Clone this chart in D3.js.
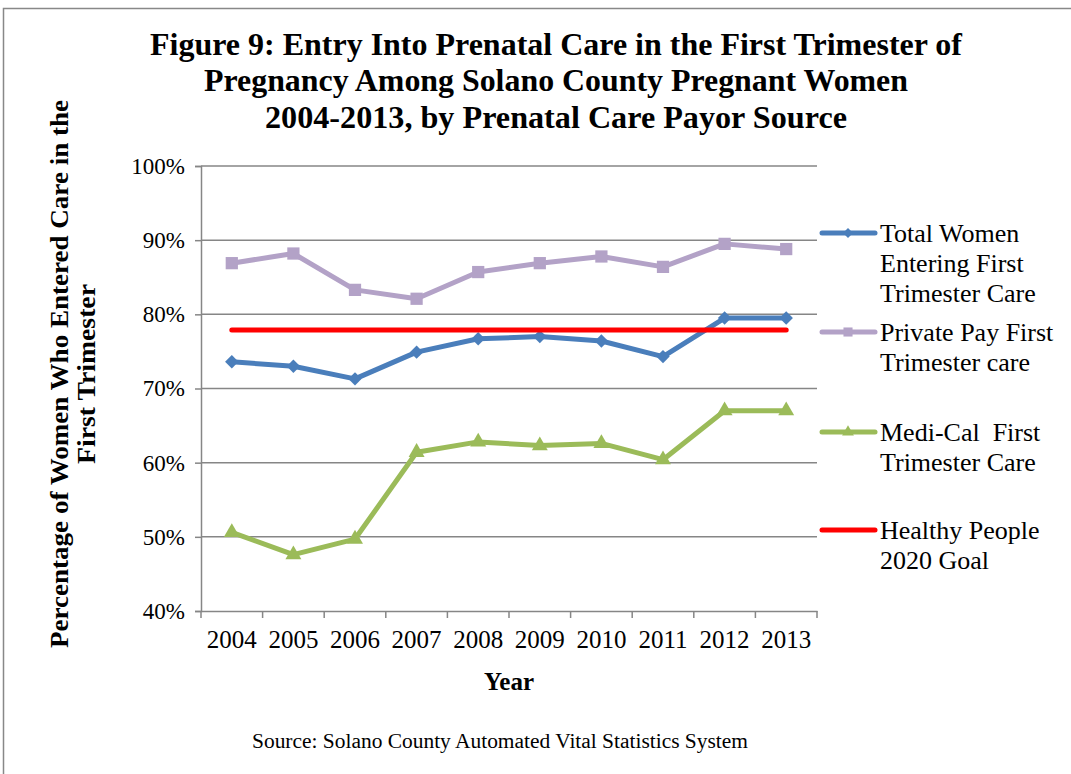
<!DOCTYPE html>
<html>
<head>
    <script src="https://d3js.org/d3.v7.min.js"></script>
    <style>
        body { margin: 0; background-color: white; }
        text { font-family: "Liberation Serif", "Times New Roman", serif; fill: #000; }
    </style>
</head>
<body>
<div id="chart"></div>
<script>
    // data
    var years = ["2004", "2005", "2006", "2007", "2008", "2009", "2010", "2011", "2012", "2013"];
    var totalWomen = [73.6, 73.0, 71.3, 74.9, 76.7, 77.0, 76.4, 74.3, 79.5, 79.5];
    var privatePay = [86.9, 88.2, 83.3, 82.1, 85.7, 86.9, 87.8, 86.4, 89.5, 88.8];
    var mediCal = [50.6, 47.6, 49.7, 61.4, 62.8, 62.3, 62.6, 60.4, 67.0, 67.0];
    var goal = [77.9, 77.9, 77.9, 77.9, 77.9, 77.9, 77.9, 77.9, 77.9, 77.9];
    var yTicks = [40, 50, 60, 70, 80, 90, 100];
    var titleLines = ["Figure 9: Entry Into Prenatal Care in the First Trimester of",
                      "Pregnancy Among Solano County Pregnant Women",
                      "2004-2013, by Prenatal Care Payor Source"];

    var series = [
        {name: ["Total Women", "Entering First", "Trimester Care"], values: totalWomen, color: "#4a7ebb", marker: "diamond"},
        {name: ["Private Pay First", "Trimester care"], values: privatePay, color: "#b3a2c7", marker: "square"},
        {name: ["Medi-Cal  First", "Trimester Care"], values: mediCal, color: "#9bbb59", marker: "triangle"},
        {name: ["Healthy People", "2020 Goal"], values: goal, color: "#ff0000", marker: null}
    ];

    var W = 1071, H = 774;
    var svg = d3.select("#chart").append("svg")
        .attr("width", W).attr("height", H);

    // outer frame
    svg.append("rect")
        .attr("x", 3.5).attr("y", 8.5)
        .attr("width", W + 10).attr("height", H + 10)
        .attr("fill", "none").attr("stroke", "#888").attr("stroke-width", 1.5);

    // title
    var titleY = [55, 91, 128];
    var titleW = [812, 704, 582];
    svg.selectAll(".title").data(titleLines).enter().append("text")
        .attr("x", 556).attr("y", function(d, i) { return titleY[i]; })
        .attr("text-anchor", "middle")
        .attr("textLength", function(d, i) { return titleW[i]; })
        .attr("lengthAdjust", "spacingAndGlyphs")
        .style("font-size", "31px").style("font-weight", "bold")
        .text(function(d) { return d; });

    var plotL = 201, plotR = 817, plotT = 166, plotB = 611;

    var x = d3.scaleBand().domain(years).range([plotL, plotR]);
    var y = d3.scaleLinear().domain([40, 100]).range([plotB, plotT]);
    var cx = function(d, i) { return x(years[i]) + x.bandwidth() / 2; };

    // gridlines
    svg.append("g").selectAll("line").data(yTicks.slice(1)).enter().append("line")
        .attr("x1", plotL).attr("x2", plotR)
        .attr("y1", function(d) { return y(d); }).attr("y2", function(d) { return y(d); })
        .attr("stroke", "#868686").attr("stroke-width", 1.5);

    // y axis
    var yAxis = svg.append("g")
        .attr("transform", "translate(" + plotL + ",0)")
        .call(d3.axisLeft(y).tickValues(yTicks).tickSize(6).tickPadding(10)
              .tickFormat(function(d) { return d + "%"; }));
    yAxis.select(".domain").attr("stroke", "#868686").attr("stroke-width", 1.5);
    yAxis.selectAll(".tick line").attr("stroke", "#868686").attr("stroke-width", 1.5);
    yAxis.selectAll(".tick text")
        .style("font-size", "23px").style("font-family", "Liberation Serif, serif").attr("fill", "#000");

    // x axis: labels at band centres, ticks at band edges
    var xAxis = svg.append("g")
        .attr("transform", "translate(0," + plotB + ")")
        .call(d3.axisBottom(x).tickSize(0).tickPadding(19));
    xAxis.select(".domain").attr("stroke", "#868686").attr("stroke-width", 1.5);
    xAxis.selectAll(".tick text")
        .style("font-size", "25px").style("font-family", "Liberation Serif, serif").attr("fill", "#000");
    var edges = years.map(function(d) { return x(d); }).concat([plotR]);
    svg.append("g").selectAll("line").data(edges).enter().append("line")
        .attr("x1", function(d) { return d; }).attr("x2", function(d) { return d; })
        .attr("y1", plotB).attr("y2", plotB + 7)
        .attr("stroke", "#868686").attr("stroke-width", 1.5);

    // axis titles
    svg.append("text")
        .attr("x", 509).attr("y", 690)
        .attr("text-anchor", "middle")
        .style("font-size", "25px").style("font-weight", "bold")
        .text("Year");

    var yTitle = svg.append("text")
        .attr("transform", "translate(68,374) rotate(-90)")
        .attr("text-anchor", "middle")
        .style("font-size", "26px").style("font-weight", "bold");
    yTitle.append("tspan").attr("x", 0).attr("dy", 0)
        .attr("textLength", 548).attr("lengthAdjust", "spacingAndGlyphs")
        .text("Percentage of Women Who Entered Care in the");
    yTitle.append("tspan").attr("x", 0).attr("dy", 27)
        .attr("textLength", 180).attr("lengthAdjust", "spacingAndGlyphs")
        .text("First Trimester");

    // source
    svg.append("text")
        .attr("x", 500).attr("y", 748)
        .attr("text-anchor", "middle")
        .attr("textLength", 496).attr("lengthAdjust", "spacingAndGlyphs")
        .style("font-size", "20px")
        .text("Source: Solano County Automated Vital Statistics System");

    // markers
    function markerPath(type, scale) {
        if (type === "diamond") return d3.symbol().type(d3.symbolSquare).size(90 * scale)();
        if (type === "square") return d3.symbol().type(d3.symbolSquare).size(150 * scale)();
        return d3.symbol().type(d3.symbolTriangle).size(110 * scale)();
    }

    var line = d3.line()
        .x(cx)
        .y(function(d) { return y(d); });

    series.forEach(function(s) {
        svg.append("path")
            .datum(s.values)
            .attr("d", line)
            .attr("fill", "none")
            .attr("stroke", s.color)
            .attr("stroke-width", 5)
            .attr("stroke-linejoin", "round")
            .attr("stroke-linecap", "round");

        if (s.marker) {
            svg.append("g").selectAll("path").data(s.values).enter().append("path")
                .attr("d", markerPath(s.marker, 1))
                .attr("transform", function(d, i) {
                    return "translate(" + cx(d, i) + "," + y(d) + ")" + (s.marker === "diamond" ? " rotate(45)" : "");
                })
                .attr("fill", s.color);
        }
    });

    // legend
    var legendY = [233, 332, 432, 530];
    series.forEach(function(s, k) {
        var g = svg.append("g").attr("transform", "translate(0," + legendY[k] + ")");
        g.append("line")
            .attr("x1", 822).attr("x2", 875).attr("y1", 0).attr("y2", 0)
            .attr("stroke", s.color).attr("stroke-width", 5).attr("stroke-linecap", "round");
        if (s.marker) {
            g.append("path")
                .attr("d", markerPath(s.marker, 0.55))
                .attr("transform", "translate(848,0)" + (s.marker === "diamond" ? " rotate(45)" : ""))
                .attr("fill", s.color);
        }
        g.selectAll("text").data(s.name).enter().append("text")
            .attr("x", 880).attr("y", function(d, i) { return 9 + i * 30; })
            .style("font-size", "26px")
            .style("white-space", "pre")
            .text(function(d) { return d; });
    });
</script>
</body>
</html>
